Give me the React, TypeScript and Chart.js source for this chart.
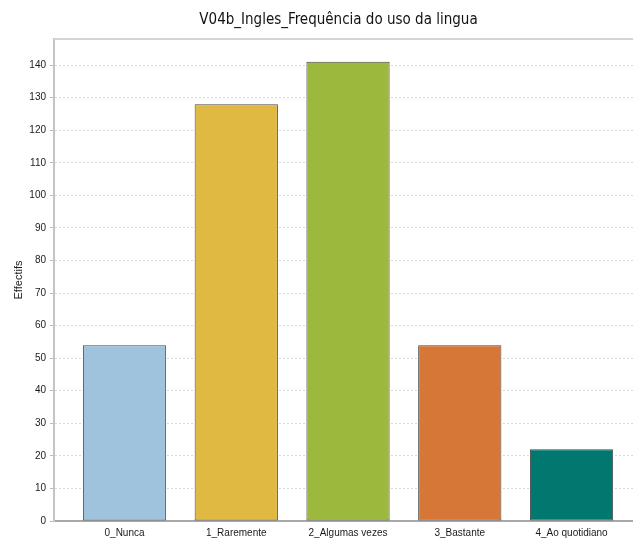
import React, { useEffect, useRef } from "react";
import { Chart, registerables } from "chart.js";

Chart.register(...registerables);

const categories = ["0_Nunca", "1_Raremente", "2_Algumas vezes", "3_Bastante", "4_Ao quotidiano"];
const counts = [54, 128, 141, 54, 22];
const barColors = ["#9fc3dd", "#e0b942", "#9db93d", "#d77737", "#00776f"];
const yTicks = [0, 10, 20, 30, 40, 50, 60, 70, 80, 90, 100, 110, 120, 130, 140];
const titleText = "V04b_Ingles_Frequência do uso da lingua";
const yTitle = "Effectifs";

const framePlugin = {
  id: "frameTop",
  afterDraw(chart: any) {
    const { ctx, chartArea } = chart;
    ctx.save();
    ctx.strokeStyle = "#d4d4d4";
    ctx.lineWidth = 2;
    ctx.beginPath();
    ctx.moveTo(chartArea.left, chartArea.top);
    ctx.lineTo(chartArea.right, chartArea.top);
    ctx.stroke();
    ctx.fillStyle = "#111";
    ctx.font = "15px 'Liberation Sans Narrow', 'DejaVu Sans Condensed', sans-serif";
    ctx.textAlign = "center";
    ctx.textBaseline = "middle";
    ctx.fillText(titleText, (chartArea.left + chartArea.right) / 2 - 5, 20);
    ctx.restore();
  },
};

export default function App() {
  const ref = useRef<HTMLCanvasElement>(null);
  useEffect(() => {
    if (!ref.current) return;
    const chart = new Chart(ref.current, {
      type: "bar",
      data: {
        datasets: [
          {
            data: counts.map((v, i) => ({ x: i, y: v })),
            backgroundColor: barColors,
            borderColor: "#4a4a4a",
            borderWidth: 1,
            borderSkipped: false,
            categoryPercentage: 1,
            barPercentage: 0.745,
          },
        ],
      },
      options: {
        animation: false,
        responsive: true,
        maintainAspectRatio: false,
        layout: { padding: { left: 0, right: 0, top: 39, bottom: 0 } },
        plugins: {
          legend: { display: false },
          tooltip: { enabled: false },
          title: { display: false },
        },
        scales: {
          x: {
            type: "linear",
            offset: false,
            min: -0.631,
            max: 4.55,
            grid: { display: false, drawTicks: false },
            border: { display: true, color: "#a8a8a8", width: 2 },
            afterBuildTicks: (scale: any) => {
              scale.ticks = categories.map((_, i) => ({ value: i }));
            },
            afterFit: (scale: any) => {
              scale.height = 18;
            },
            ticks: {
              autoSkip: false,
              maxRotation: 0,
              padding: 6,
              color: "#1a1a1a",
              font: { family: "'Liberation Sans', Arial, sans-serif", size: 10 },
              callback: (v: any) => categories[v] ?? "",
            },
          },
          y: {
            min: 0,
            max: 148,
            afterBuildTicks: (scale: any) => {
              scale.ticks = yTicks.map((v) => ({ value: v }));
            },
            afterFit: (scale: any) => {
              scale.width = 54;
            },
            grid: {
              color: "#d9d9d9",
              lineWidth: 1,
              tickLength: 4,
              tickColor: "#bbbbbb",
              drawTicks: true,
            },
            border: { display: true, color: "#c4c4c4", width: 2, dash: [2, 2] },
            title: {
              display: true,
              text: yTitle,
              color: "#1a1a1a",
              font: { family: "'Liberation Sans', Arial, sans-serif", size: 11 },
              padding: { top: 12, bottom: 0 },
            },
            ticks: {
              padding: 4,
              color: "#1a1a1a",
              font: { family: "'Liberation Sans', Arial, sans-serif", size: 10 },
            },
          },
        },
      },
      plugins: [framePlugin],
    } as any);
    return () => chart.destroy();
  }, []);
  return (
    <div style={{ position: "absolute", left: 0, top: 0, width: 633, height: 539, background: "#fff" }}>
      <canvas ref={ref} />
    </div>
  );
}
